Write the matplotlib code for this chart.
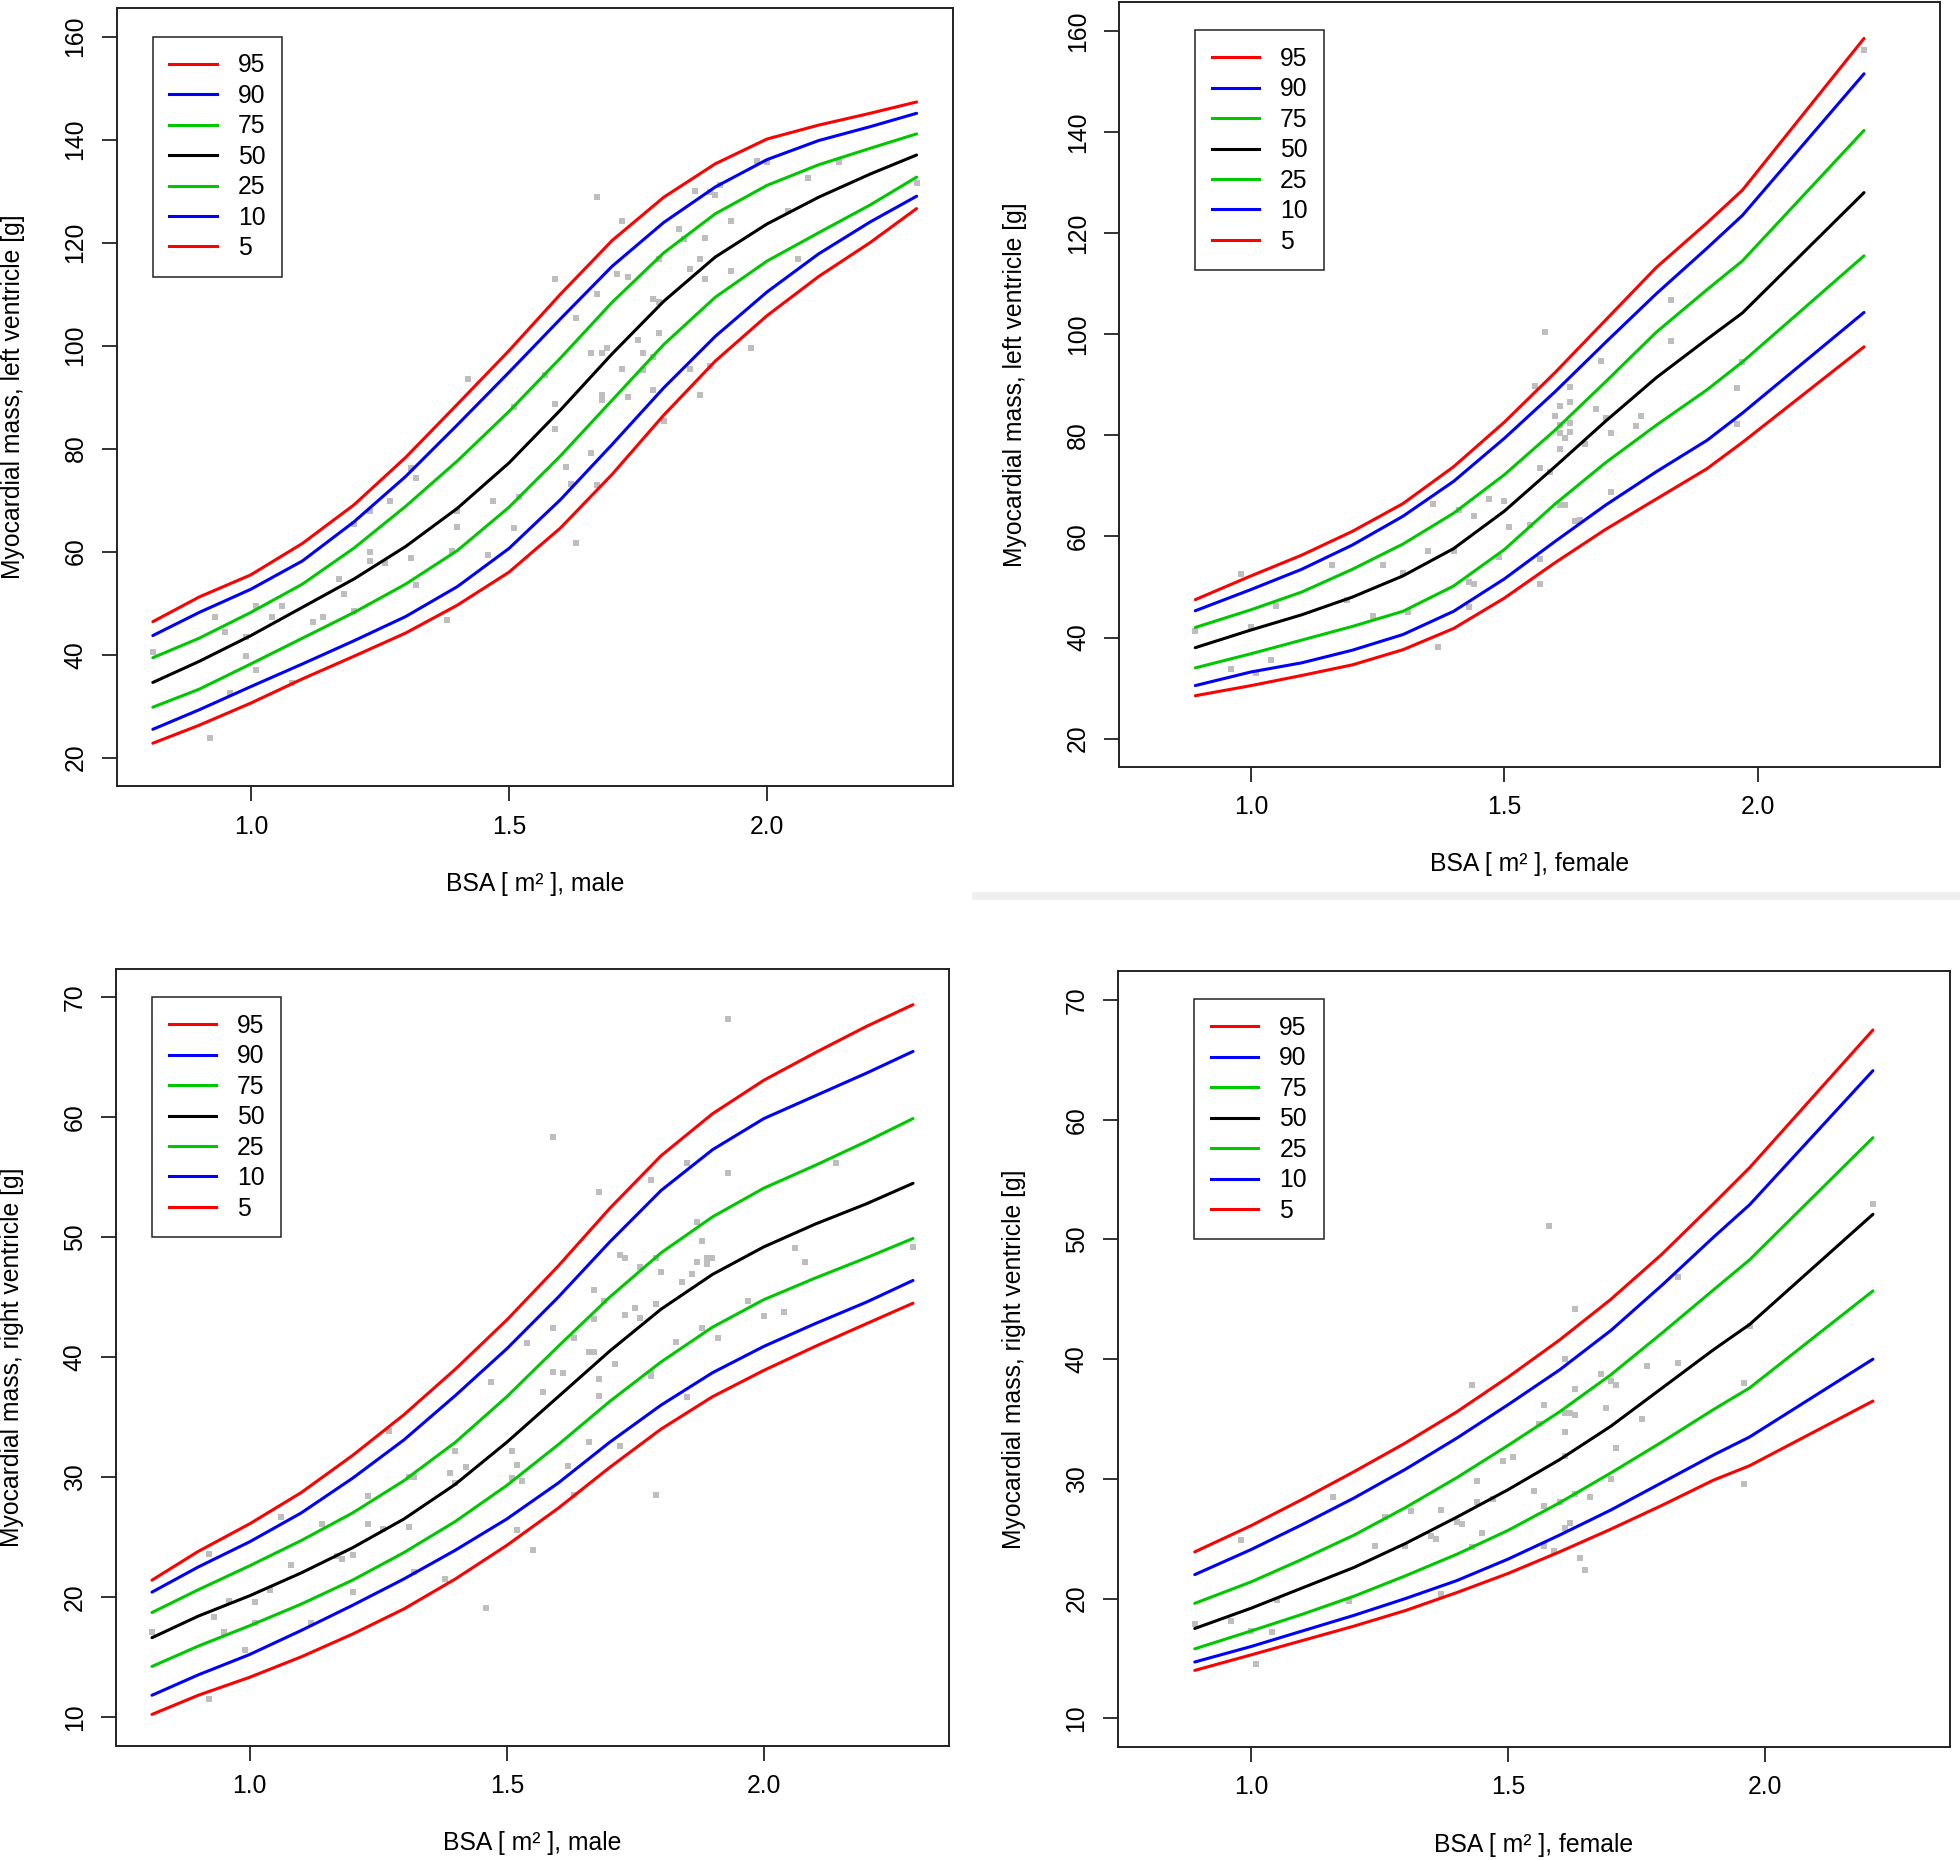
import matplotlib
matplotlib.use("Agg")
import matplotlib.pyplot as plt
from matplotlib.lines import Line2D
from matplotlib.patches import Rectangle

plt.rcParams['font.family'] = ['Liberation Sans', 'DejaVu Sans']

# ---------------- common ----------------
percentile_labels = ['95', '90', '75', '50', '25', '10', '5']
percentile_colors = ['#FF0000', '#0000FF', '#00C800', '#000000', '#00C800', '#0000FF', '#FF0000']
bsa_ticks = [1.0, 1.5, 2.0]
bsa_tick_labels = ['1.0', '1.5', '2.0']

# ---------------- LV, male ----------------
lv_male_bsa = [0.81, 0.9, 1.0, 1.1, 1.2, 1.3, 1.4, 1.5, 1.6, 1.7, 1.8, 1.9, 2.0, 2.1, 2.2, 2.29]
lv_male_p95 = [46.4, 51.2, 55.5, 61.6, 69.1, 78.3, 88.6, 99.0, 110.0, 120.4, 128.8, 135.3, 140.1, 142.8, 145.1, 147.3]
lv_male_p90 = [43.7, 48.2, 52.7, 58.2, 65.8, 74.6, 84.6, 94.8, 105.2, 115.4, 123.9, 130.8, 136.1, 139.8, 142.5, 145.1]
lv_male_p75 = [39.4, 43.2, 48.2, 53.7, 60.7, 68.8, 77.6, 87.2, 97.6, 108.4, 118.0, 125.6, 131.1, 135.1, 138.3, 141.1]
lv_male_p50 = [34.6, 38.7, 43.7, 49.2, 54.7, 61.0, 68.4, 77.2, 87.5, 98.4, 108.6, 117.2, 123.6, 128.8, 133.3, 137.0]
lv_male_p25 = [29.8, 33.3, 38.2, 43.2, 48.2, 53.7, 60.2, 68.6, 78.6, 89.4, 100.2, 109.4, 116.4, 121.9, 127.3, 132.7]
lv_male_p10 = [25.5, 29.3, 33.8, 38.2, 42.7, 47.4, 53.2, 60.6, 70.1, 80.8, 91.8, 101.8, 110.4, 117.8, 124.0, 129.0]
lv_male_p5 = [22.8, 26.3, 30.6, 35.3, 39.7, 44.2, 49.6, 56.0, 64.6, 75.0, 86.5, 97.0, 105.8, 113.4, 120.0, 126.6]
lv_male_pts_bsa = [
    0.81, 0.92, 0.93, 0.95, 0.96, 0.99, 0.99, 1.01, 1.01, 1.04,
    1.06, 1.08, 1.12, 1.14, 1.17, 1.18, 1.20, 1.20, 1.23, 1.23,
    1.23, 1.26, 1.27, 1.31, 1.31, 1.32, 1.32, 1.38, 1.39, 1.40,
    1.40, 1.42, 1.46, 1.47, 1.51, 1.51, 1.52, 1.57, 1.59, 1.59,
    1.59, 1.61, 1.62, 1.63, 1.63, 1.66, 1.66, 1.67, 1.67, 1.67,
    1.68, 1.68, 1.68, 1.69, 1.71, 1.72, 1.72, 1.73, 1.73, 1.75,
    1.76, 1.76, 1.78, 1.79, 1.78, 1.79, 1.78, 1.79, 1.80, 1.83,
    1.84, 1.85, 1.85, 1.86, 1.87, 1.88, 1.88, 1.87, 1.89, 1.90,
    1.91, 1.89, 1.93, 1.93, 1.97, 2.00, 1.98, 2.04, 2.06, 2.08,
    2.14, 2.29]
lv_male_pts_mass = [
    40.5, 23.8, 47.4, 44.4, 32.6, 43.4, 39.8, 49.5, 37.0, 47.4,
    49.5, 34.4, 46.4, 47.4, 54.7, 51.8, 48.4, 65.4, 59.9, 58.2,
    67.9, 57.7, 69.9, 58.7, 76.3, 74.3, 53.5, 46.7, 60.2, 67.8,
    64.8, 93.5, 59.4, 69.9, 88.0, 64.6, 70.6, 94.3, 112.9, 88.7,
    83.9, 76.4, 73.1, 105.4, 61.6, 98.5, 79.2, 128.8, 110.0, 72.9,
    98.5, 90.5, 89.5, 99.5, 113.9, 124.2, 95.5, 113.4, 90.0, 101.0,
    98.5, 95.2, 109.1, 108.4, 97.8, 102.5, 91.3, 116.9, 85.3, 122.7,
    120.6, 114.9, 95.5, 130.0, 116.8, 120.8, 112.9, 90.5, 129.8, 129.3,
    131.1, 96.0, 124.2, 114.4, 99.5, 135.6, 135.8, 126.1, 116.8, 132.5,
    135.6, 131.5]

# ---------------- LV, female ----------------
lv_female_bsa = [0.89, 1.0, 1.1, 1.2, 1.3, 1.4, 1.5, 1.6, 1.7, 1.8, 1.9, 1.97, 2.21]
lv_female_p95 = [47.5, 52.2, 56.3, 61.0, 66.5, 73.8, 82.6, 92.4, 102.8, 113.2, 122.0, 128.5, 158.5]
lv_female_p90 = [45.3, 49.5, 53.5, 58.3, 64.0, 70.9, 79.4, 88.6, 98.4, 108.0, 117.0, 123.5, 151.5]
lv_female_p75 = [42.0, 45.5, 49.0, 53.5, 58.5, 64.6, 72.2, 81.0, 90.6, 100.4, 108.8, 114.5, 140.3]
lv_female_p50 = [38.0, 41.5, 44.5, 48.0, 52.2, 57.6, 65.0, 73.8, 82.8, 91.4, 99.0, 104.2, 128.0]
lv_female_p25 = [34.0, 36.8, 39.5, 42.2, 45.2, 50.2, 57.4, 66.4, 74.6, 82.0, 89.0, 94.5, 115.5]
lv_female_p10 = [30.5, 33.2, 35.0, 37.5, 40.6, 45.2, 51.6, 59.0, 66.2, 72.8, 79.0, 84.4, 104.3]
lv_female_p5 = [28.5, 30.5, 32.5, 34.6, 37.6, 41.8, 47.8, 54.8, 61.4, 67.4, 73.4, 78.6, 97.5]
lv_female_pts_bsa = [
    0.89, 0.96, 0.98, 1.00, 1.01, 1.04, 1.05, 1.16, 1.19, 1.24,
    1.26, 1.30, 1.31, 1.35, 1.36, 1.37, 1.40, 1.41, 1.43, 1.44,
    1.43, 1.44, 1.47, 1.49, 1.50, 1.51, 1.55, 1.56, 1.57, 1.57,
    1.57, 1.58, 1.59, 1.60, 1.61, 1.61, 1.61, 1.61, 1.62, 1.61,
    1.62, 1.63, 1.63, 1.63, 1.63, 1.64, 1.65, 1.66, 1.68, 1.69,
    1.70, 1.71, 1.71, 1.76, 1.77, 1.83, 1.83, 1.96, 1.96, 1.97,
    2.21]
lv_female_pts_mass = [
    41.2, 33.7, 52.5, 42.0, 33.0, 35.6, 46.3, 54.3, 47.5, 44.2,
    54.3, 52.8, 45.0, 57.1, 66.5, 38.2, 57.2, 65.2, 51.0, 50.5,
    46.0, 64.0, 67.5, 55.9, 67.0, 61.8, 62.2, 89.7, 73.5, 55.5,
    50.5, 100.5, 72.7, 83.8, 85.8, 82.0, 80.5, 77.2, 79.5, 66.3,
    66.3, 89.5, 86.5, 82.5, 80.7, 63.0, 63.2, 78.2, 85.3, 94.6,
    83.5, 80.5, 68.8, 81.8, 83.8, 106.8, 98.7, 89.4, 82.3, 94.5,
    156.2]

# ---------------- RV, male ----------------
rv_male_bsa = [0.81, 0.9, 1.0, 1.1, 1.2, 1.3, 1.4, 1.5, 1.6, 1.7, 1.8, 1.9, 2.0, 2.1, 2.2, 2.29]
rv_male_p95 = [21.4, 23.8, 26.1, 28.7, 31.8, 35.2, 39.0, 43.1, 47.6, 52.4, 56.8, 60.3, 63.1, 65.4, 67.6, 69.4]
rv_male_p90 = [20.4, 22.5, 24.6, 27.0, 29.9, 33.1, 36.8, 40.7, 45.0, 49.6, 53.9, 57.3, 59.9, 61.8, 63.7, 65.5]
rv_male_p75 = [18.7, 20.6, 22.6, 24.7, 27.0, 29.7, 32.9, 36.7, 40.9, 45.0, 48.7, 51.7, 54.1, 56.0, 58.0, 59.9]
rv_male_p50 = [16.6, 18.4, 20.1, 22.0, 24.1, 26.5, 29.4, 32.9, 36.7, 40.5, 44.0, 46.9, 49.2, 51.1, 52.8, 54.5]
rv_male_p25 = [14.2, 15.9, 17.6, 19.4, 21.4, 23.7, 26.3, 29.3, 32.7, 36.3, 39.6, 42.5, 44.8, 46.6, 48.3, 49.9]
rv_male_p10 = [11.8, 13.5, 15.2, 17.2, 19.3, 21.5, 23.9, 26.5, 29.5, 32.9, 36.0, 38.7, 40.9, 42.8, 44.6, 46.4]
rv_male_p5 = [10.2, 11.8, 13.3, 15.0, 16.9, 19.0, 21.5, 24.3, 27.4, 30.8, 34.0, 36.7, 38.9, 40.9, 42.8, 44.5]
rv_male_pts_bsa = [
    0.81, 0.92, 0.92, 0.93, 0.95, 0.96, 0.99, 1.01, 1.01, 1.04,
    1.06, 1.08, 1.12, 1.14, 1.17, 1.18, 1.20, 1.20, 1.23, 1.23,
    1.26, 1.27, 1.31, 1.31, 1.32, 1.32, 1.38, 1.39, 1.40, 1.40,
    1.42, 1.46, 1.47, 1.51, 1.51, 1.52, 1.52, 1.53, 1.54, 1.55,
    1.57, 1.59, 1.59, 1.59, 1.61, 1.62, 1.63, 1.63, 1.66, 1.67,
    1.67, 1.67, 1.68, 1.68, 1.68, 1.69, 1.71, 1.66, 1.72, 1.73,
    1.73, 1.75, 1.76, 1.76, 1.72, 1.78, 1.78, 1.78, 1.79, 1.79,
    1.79, 1.80, 1.83, 1.84, 1.85, 1.85, 1.86, 1.87, 1.87, 1.88,
    1.88, 1.89, 1.89, 1.90, 1.91, 1.93, 1.93, 1.97, 2.00, 2.04,
    2.06, 2.08, 2.14, 2.29]
rv_male_pts_mass = [
    17.1, 23.6, 11.5, 18.3, 17.1, 19.7, 15.6, 19.6, 17.8, 20.6,
    26.7, 22.7, 17.8, 26.1, 23.4, 23.2, 20.4, 23.5, 28.4, 26.1,
    25.7, 33.8, 25.8, 30.0, 30.0, 22.1, 21.5, 30.3, 29.5, 32.2,
    30.8, 19.1, 37.9, 32.2, 29.9, 31.0, 25.6, 29.7, 41.2, 23.9,
    37.1, 58.4, 42.4, 38.8, 38.7, 30.9, 41.6, 28.5, 40.4, 40.4,
    45.6, 43.2, 53.8, 38.2, 36.8, 44.7, 39.4, 32.9, 48.5, 48.3,
    43.5, 44.1, 47.5, 43.3, 32.6, 54.8, 38.7, 38.4, 48.3, 44.4,
    28.5, 47.1, 41.3, 46.3, 56.2, 36.7, 46.9, 51.3, 47.9, 49.7,
    42.4, 48.3, 47.8, 48.3, 41.6, 68.2, 55.4, 44.7, 43.4, 43.8,
    49.1, 47.9, 56.2, 49.2]

# ---------------- RV, female ----------------
rv_female_bsa = [0.89, 1.0, 1.1, 1.2, 1.3, 1.4, 1.5, 1.6, 1.7, 1.8, 1.9, 1.97, 2.21]
rv_female_p95 = [23.9, 26.1, 28.3, 30.6, 33.0, 35.6, 38.5, 41.6, 45.0, 48.8, 53.0, 56.0, 67.5]
rv_female_p90 = [22.0, 24.1, 26.2, 28.4, 30.8, 33.4, 36.2, 39.1, 42.4, 46.2, 50.2, 52.9, 64.1]
rv_female_p75 = [19.6, 21.4, 23.3, 25.3, 27.6, 30.1, 32.8, 35.6, 38.7, 42.2, 45.8, 48.3, 58.5]
rv_female_p50 = [17.5, 19.2, 20.9, 22.6, 24.6, 26.8, 29.1, 31.6, 34.4, 37.6, 40.8, 42.9, 52.1]
rv_female_p25 = [15.8, 17.3, 18.7, 20.2, 21.9, 23.7, 25.7, 28.0, 30.5, 33.1, 35.8, 37.6, 45.7]
rv_female_p10 = [14.7, 16.0, 17.3, 18.6, 20.0, 21.5, 23.3, 25.3, 27.4, 29.7, 32.0, 33.5, 40.0]
rv_female_p5 = [14.0, 15.3, 16.5, 17.7, 19.0, 20.5, 22.1, 23.9, 25.8, 27.8, 29.9, 31.1, 36.5]
rv_female_pts_bsa = [
    0.89, 0.96, 0.98, 1.00, 1.01, 1.04, 1.05, 1.16, 1.19, 1.24,
    1.26, 1.30, 1.31, 1.35, 1.36, 1.37, 1.37, 1.40, 1.41, 1.43,
    1.43, 1.44, 1.44, 1.45, 1.47, 1.49, 1.51, 1.55, 1.56, 1.57,
    1.57, 1.57, 1.58, 1.59, 1.60, 1.61, 1.61, 1.61, 1.61, 1.61,
    1.62, 1.62, 1.63, 1.63, 1.63, 1.63, 1.64, 1.65, 1.66, 1.68,
    1.69, 1.70, 1.71, 1.71, 1.70, 1.76, 1.77, 1.83, 1.83, 1.96,
    1.96, 1.97, 2.21]
rv_female_pts_mass = [
    17.9, 18.1, 24.9, 17.3, 14.5, 17.2, 19.9, 28.5, 19.8, 24.4,
    26.8, 24.4, 27.3, 25.2, 25.0, 27.4, 20.4, 26.4, 26.2, 37.8,
    24.3, 29.8, 28.1, 25.5, 28.3, 31.5, 31.8, 29.0, 34.6, 36.2,
    27.7, 24.4, 51.1, 24.0, 28.1, 40.0, 35.5, 33.9, 31.9, 25.9,
    35.5, 26.3, 44.2, 37.5, 35.3, 28.7, 23.4, 22.4, 28.5, 38.8,
    35.9, 38.2, 37.8, 32.6, 30.0, 35.0, 39.4, 39.7, 46.9, 38.0,
    29.6, 42.8, 53.0]

lv_yticks = [20, 40, 60, 80, 100, 120, 140, 160]
rv_yticks = [10, 20, 30, 40, 50, 60, 70]

# ---------------- figure ----------------
W, H = 1960, 1860
fig = plt.figure(figsize=(W / 100, H / 100), dpi=100)
FS = 17.8


def add_axes_px(left, top, right, bottom):
    return fig.add_axes([left / W, 1 - bottom / H, (right - left) / W, (bottom - top) / H])


def draw_panel(ax, bsa, curves, pts_x, pts_y, ylim, yticks, ylabel, xlabel,
               leg_dx, leg_dy, w_px, h_px):
    ax.plot(pts_x, pts_y, linestyle='none', marker='s', markersize=4.0,
            color='#BEBEBE', markeredgewidth=0, zorder=1)
    for vals, col in zip(curves, percentile_colors):
        ax.plot(bsa, vals, color=col, lw=2.2, zorder=2,
                solid_joinstyle='round', solid_capstyle='round')
    ax.set_xlim(0.74, 2.36)
    ax.set_ylim(*ylim)
    ax.set_xticks(bsa_ticks)
    ax.set_xticklabels(bsa_tick_labels)
    ax.set_yticks(yticks)
    ax.set_yticklabels([str(v) for v in yticks])
    for s in ax.spines.values():
        s.set_linewidth(1.4)
        s.set_color('#222222')
    ax.tick_params(axis='both', direction='out', length=10.5, width=1.3,
                   labelsize=FS, color='#222222')
    ax.tick_params(axis='y', labelrotation=90, pad=10.5)
    ax.tick_params(axis='x', pad=10)
    for lab in ax.get_yticklabels():
        lab.set_va('center')
    ax.set_xlabel(xlabel, fontsize=FS, va='center')
    ax.xaxis.set_label_coords(0.5, -97.5 / h_px)
    ax.set_ylabel(ylabel, fontsize=FS, va='center')
    ax.yaxis.set_label_coords(-104 / w_px, 0.5)
    handles = [Line2D([], [], color=c, lw=2.2) for c in percentile_colors]
    leg = ax.legend(handles, percentile_labels, loc='upper left',
                    bbox_to_anchor=(leg_dx / w_px, 1 - leg_dy / h_px),
                    borderaxespad=0, fontsize=FS, frameon=True, fancybox=False,
                    framealpha=1, edgecolor='#222222', handlelength=1.92,
                    handletextpad=0.85, borderpad=0.67, labelspacing=0.26)
    leg.get_frame().set_linewidth(1.1)


# panel boxes in pixels (left, top, right, bottom)
tl = (116.7, 7.7, 952.7, 786.5)
tr = (1119.3, 2.5, 1940.0, 767.0)
bl = (116.0, 968.7, 949.0, 1745.6)
br = (1117.7, 971.3, 1950.0, 1747.0)

panels = [
    (tl, lv_male_bsa, [lv_male_p95, lv_male_p90, lv_male_p75, lv_male_p50, lv_male_p25, lv_male_p10, lv_male_p5],
     lv_male_pts_bsa, lv_male_pts_mass, (14.4, 165.6), lv_yticks,
     'Myocardial mass, left ventricle [g]', 'BSA [ m² ], male', 36.0, 29.2),
    (tr, lv_female_bsa, [lv_female_p95, lv_female_p90, lv_female_p75, lv_female_p50, lv_female_p25, lv_female_p10, lv_female_p5],
     lv_female_pts_bsa, lv_female_pts_mass, (14.4, 165.6), lv_yticks,
     'Myocardial mass, left ventricle [g]', 'BSA [ m² ], female', 75.7, 27.9),
    (bl, rv_male_bsa, [rv_male_p95, rv_male_p90, rv_male_p75, rv_male_p50, rv_male_p25, rv_male_p10, rv_male_p5],
     rv_male_pts_bsa, rv_male_pts_mass, (7.6, 72.4), rv_yticks,
     'Myocardial mass, right ventricle [g]', 'BSA [ m² ], male', 36.0, 28.7),
    (br, rv_female_bsa, [rv_female_p95, rv_female_p90, rv_female_p75, rv_female_p50, rv_female_p25, rv_female_p10, rv_female_p5],
     rv_female_pts_bsa, rv_female_pts_mass, (7.6, 72.4), rv_yticks,
     'Myocardial mass, right ventricle [g]', 'BSA [ m² ], female', 76.6, 28.2),
]

for box, bsa, curves, px, py, ylim, yt, ylab, xlab, ldx, ldy in panels:
    l, t, r, b = box
    ax = add_axes_px(l, t, r, b)
    draw_panel(ax, bsa, curves, px, py, ylim, yt, ylab, xlab, ldx, ldy, r - l, b - t)

# faint separator band seen in the source image
fig.patches.append(Rectangle((972 / W, 1 - 900 / H), (W - 972) / W, 8 / H,
                             transform=fig.transFigure, facecolor='#EFEFEF',
                             edgecolor='none', zorder=0))

fig.savefig('out.png', dpi=100, facecolor='white')
